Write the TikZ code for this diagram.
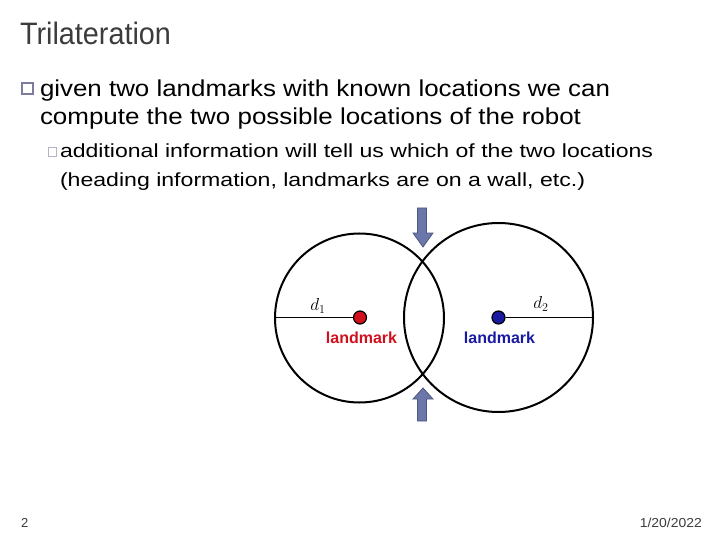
\documentclass[tikz,border=0pt]{standalone}
\usepackage{fontspec}
\setmainfont{Liberation Sans}
\definecolor{titlegray}{HTML}{3C3C3C}
\definecolor{bulletblue}{HTML}{7C7C9C}
\definecolor{subbullet}{HTML}{B4B4C4}
\definecolor{arrowfill}{HTML}{6B77A8}
\definecolor{arrowedge}{HTML}{4D5780}
\definecolor{lmred}{HTML}{D0101C}
\definecolor{lmblue}{HTML}{1A1AA0}
\newcommand{\fitw}[2]{\resizebox{#1}{\height}{#2}}
\tikzset{
  txt/.style={anchor=base west, inner sep=0pt, outer sep=0pt},
  bodytxt/.style={txt, font=\fontsize{23}{26}\selectfont},
  subtxt/.style={txt, font=\fontsize{19}{22}\selectfont},
  bigbullet/.style={draw=bulletblue, line width=1.1pt, minimum size=11pt, inner sep=0pt},
  smallbullet/.style={draw=subbullet, line width=0.9pt, minimum size=8.5pt, inner sep=0pt},
  ring/.style={draw=black, line width=2pt},
  lmdot/.style={circle, draw=black, line width=1.2pt, minimum size=13pt, inner sep=0pt},
  lmtxt/.style={font=\fontsize{16}{18}\selectfont\bfseries, anchor=base, inner sep=0pt},
  dlabel/.style={font=\fontsize{17}{19}\selectfont, inner sep=0pt},
  bigarrow/.style={fill=arrowfill, draw=arrowedge, line width=0.8pt}
}
\begin{document}
\begin{tikzpicture}[x=1pt,y=-1pt]
\useasboundingbox (0,0) rectangle (720,540);
% title
\node[txt, text=titlegray, font=\fontsize{31}{36}\selectfont] (title) at (20,45) {\fitw{151pt}{Trilateration}};
% bullets
\node[bigbullet] (b1) at (27.5,88.5) {};
\node[bodytxt] (l1) at (40,96.5) {\fitw{570pt}{given two landmarks with known locations we can}};
\node[bodytxt] (l2) at (40,125) {\fitw{541pt}{compute the two possible locations of the robot}};
\node[smallbullet] (b2) at (52.5,152) {};
\node[subtxt] (l3) at (60,158) {\fitw{593pt}{additional information will tell us which of the two locations}};
\node[subtxt] (l4) at (60,187) {\fitw{525pt}{(heading information, landmarks are on a wall, etc.)}};
% circles
\draw[ring] (359.5,318) circle[radius=84.5];
\draw[ring] (498.5,317.5) circle[radius=94.5];
% landmarks
\coordinate (e1) at (275,317.5);
\coordinate (e2) at (593,317.5);
\node[lmdot, fill=lmred] (lm1) at (360,317.5) {};
\node[lmdot, fill=lmblue] (lm2) at (498.5,317.5) {};
\draw[line width=1pt] (e1) -- (lm1);
\draw[line width=1pt] (lm2) -- (e2);
\node[dlabel] (d1) at (318,306) {$d_1$};
\node[dlabel] (d2) at (541,304) {$d_2$};
\node[lmtxt, text=lmred] (t1) at (361.5,343.5) {landmark};
\node[lmtxt, text=lmblue] (t2) at (499.5,343.5) {landmark};
% arrows
\draw[bigarrow] (417.5,208) -- (426.5,208) -- (426.5,233) -- (433,233) -- (423,247) -- (413,233) -- (417.5,233) -- cycle;
\draw[bigarrow] (417.5,421) -- (426.5,421) -- (426.5,399) -- (433,399) -- (423,388) -- (413,399) -- (417.5,399) -- cycle;
% footer
\node[txt, text=titlegray, font=\fontsize{13}{15}\selectfont] (pg) at (21,527) {2};
\node[anchor=base east, inner sep=0pt, text=titlegray, font=\fontsize{13}{15}\selectfont] (date) at (702,527) {\fitw{62pt}{1/20/2022}};
\end{tikzpicture}
\end{document}
